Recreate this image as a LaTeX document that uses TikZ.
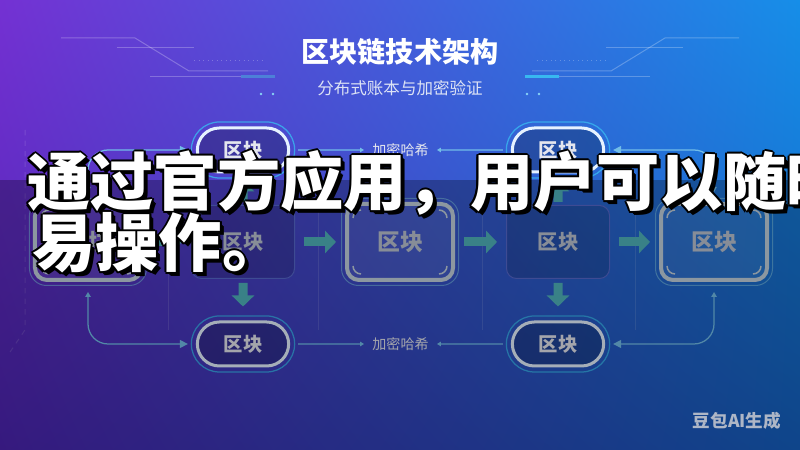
\documentclass[tikz,border=0pt]{standalone}
\usepackage{fontspec}
\setmainfont{Noto Sans CJK SC}
\usepackage{tikz}
\usetikzlibrary{arrows.meta,positioning,shapes.misc,calc,shadings}
\definecolor{bgul}{HTML}{7431D3}
\definecolor{bgur}{HTML}{168EE8}
\definecolor{bgll}{HTML}{4B24B0}
\definecolor{bglr}{HTML}{1560C0}
\definecolor{flowteal}{HTML}{4FB3BC}
\definecolor{wire}{HTML}{72BDE8}
\definecolor{rim}{HTML}{E6F2FF}
\definecolor{glowc}{HTML}{38B8F0}
\definecolor{frame}{HTML}{C3D2DE}
\definecolor{ink}{HTML}{E4E6EE}
\definecolor{dimink}{HTML}{BCC4D2}
\definecolor{edge}{HTML}{5668CC}
\definecolor{subink}{HTML}{DDE3F5}
\definecolor{markink}{HTML}{AEB6C6}

\begin{document}
\begin{tikzpicture}[x=0.2mm,y=0.2mm,
   pill/.style={rounded rectangle,draw=rim,line width=0.6mm,fill=black,fill opacity=0.22,text opacity=1,text=ink,minimum width=20.6mm,minimum height=8.8mm,font=\bfseries\fontsize{11pt}{13pt}\selectfont},
   ring/.style={rounded rectangle,draw=glowc,line width=0.25mm,draw opacity=0.8,minimum width=23mm,minimum height=11.2mm},
   glowbox/.style={rounded corners=2.4mm,draw=frame,line width=0.8mm,fill=white,fill opacity=0.07,text opacity=1,text=dimink,minimum width=21.2mm,minimum height=15.2mm,font=\bfseries\fontsize{13pt}{15pt}\selectfont},
   boxring/.style={rounded corners=3.4mm,draw=glowc!50!frame,line width=0.2mm,draw opacity=0.6,minimum width=23.4mm,minimum height=17.4mm},
   cornermark/.style={draw=frame,line width=0.3mm},
   plainbox/.style={rounded corners=2mm,draw=edge,line width=0.2mm,fill=black,fill opacity=0.14,text opacity=1,text=dimink,minimum width=20.6mm,minimum height=14.6mm,font=\bfseries\fontsize{11.6pt}{14pt}\selectfont},
   flow/.style={draw=flowteal,line width=1.8mm,-{Triangle[length=2.2mm,width=4.4mm]}},
   link/.style={draw=wire,line width=0.25mm,rounded corners=4mm},
   hashln/.style={draw=wire,line width=0.25mm,-{Triangle[length=0.8mm,width=0.9mm]}},
   hashlbl/.style={text=ink,font=\fontsize{8pt}{10pt}\selectfont,inner sep=1.6mm},
   deco/.style={draw=white,draw opacity=0.25,line width=0.2mm},
   gridln/.style={draw=white,draw opacity=0.12,line width=0.2mm},
   captxt/.style={anchor=west,inner sep=0pt,font=\bfseries\fontsize{36pt}{40pt}\selectfont}]
  \useasboundingbox (0,0) rectangle (800,450);
  \shade[upper left=bgul,upper right=bgur,lower left=bgll,lower right=bglr] (0,0) rectangle (800,450);

  % title and its circuit lines
  \node[text=white,font=\bfseries\fontsize{16pt}{18pt}\selectfont] (ttl) at (400,398) {区块链技术架构};
  \node[text=subink,font=\fontsize{9.4pt}{11pt}\selectfont] (stl) at (400,362) {分布式账本与加密验证};
  \draw[deco] (61,412)--(135,412)--(189,379)--(268,379);
  \draw[deco] (117,402)--(194,402);
  \draw[deco,dotted] (194,389)--(265,389);
  \draw[deco] (150,373)--(241,373);
  \draw[draw=edge!70!glowc,line width=0.6mm] (241,373)--(275,373);
  \fill[glowc!60!white] (261,356) circle (1.4) (273,356) circle (1.4);
  \draw[deco] (739,412)--(665,412)--(611,379)--(532,379);
  \draw[deco] (683,402)--(606,402);
  \draw[deco,dotted] (606,389)--(535,389);
  \draw[deco] (650,373)--(559,373);
  \draw[draw=glowc,line width=0.6mm] (559,373)--(525,373);
  \fill[glowc!60!white] (539,356) circle (1.4) (527,356) circle (1.4);

  % faint frame lines
  \draw[gridln,dashed] (25,320)--(25,120)--(8,95);
  \draw[gridln] (168,265)--(168,120) (318,265)--(318,120);
  \draw[gridln] (482,265)--(482,120) (635,265)--(635,120);

  % middle row
  \node[glowbox] (b1) at (88,208) {区块};
  \node[plainbox,right=9.6mm of b1] (b2) {区块};
  \node[glowbox,right=10mm of b2] (b3) {区块};
  \node[plainbox,right=10.2mm of b3] (b4) {区块};
  \node[glowbox,right=9.8mm of b4] (b5) {区块};
  \foreach \n in {b1,b3,b5} {
    \node[boxring] (\n-ring) at (\n) {};
    \draw[cornermark] ([shift={(1.6mm,-3.2mm)}]\n.north west) arc[start angle=180,end angle=90,radius=1.6mm];
    \draw[cornermark] ([shift={(-3.2mm,-1.6mm)}]\n.north east) arc[start angle=90,end angle=0,radius=1.6mm];
    \draw[cornermark] ([shift={(-1.6mm,3.2mm)}]\n.south east) arc[start angle=0,end angle=-90,radius=1.6mm];
    \draw[cornermark] ([shift={(3.2mm,1.6mm)}]\n.south west) arc[start angle=270,end angle=180,radius=1.6mm];
  }

  % pills
  \node[pill,above=6.3mm of b2] (tl) {区块};
  \node[pill,above=6.3mm of b4] (tr) {区块};
  \node[pill,below=8.3mm of b2] (bl) {区块};
  \node[pill,below=8.3mm of b4] (br) {区块};
  \foreach \n in {tl,tr,bl,br} \node[ring] (\n-ring) at (\n) {};
  \node[hashlbl] (h1) at ($(tl)!0.5!(tr)$) {加密哈希};
  \node[hashlbl] (h2) at ($(bl)!0.5!(br)$) {加密哈希};

  % connectors
  \draw[hashln,shorten <=1.6mm] (tl) -- (h1);
  \draw[hashln,shorten <=1.6mm] (tr) -- (h1);
  \draw[hashln,shorten <=1.6mm] (bl) -- (h2);
  \draw[hashln,shorten <=1.6mm] (br) -- (h2);
  \draw[flow,shorten <=1.8mm,shorten >=1.8mm] (b1) -- (b2);
  \draw[flow,shorten <=1.8mm,shorten >=1.8mm] (b2) -- (b3);
  \draw[flow,shorten <=1.8mm,shorten >=1.8mm] (b3) -- (b4);
  \draw[flow,shorten <=1.8mm,shorten >=1.8mm] (b4) -- (b5);
  \draw[flow,shorten <=0.8mm,shorten >=2.8mm] (b2) -- (bl);
  \draw[flow,shorten <=0.8mm,shorten >=2.8mm] (b4) -- (br);
  \draw[flow,shorten <=0.6mm,shorten >=1.4mm] (b2) -- (tl);
  \draw[flow,shorten <=0.6mm,shorten >=1.4mm] (b4) -- (tr);
  \draw[link,{Triangle[length=1mm,width=1.1mm]}-{Triangle[length=1.6mm,width=1.6mm]},shorten <=2mm,shorten >=1.6mm] (b1) |- (tl);
  \draw[link,{Triangle[length=1mm,width=1.1mm]}-{Triangle[length=1.6mm,width=1.6mm]},shorten <=2mm,shorten >=1.6mm] (b1) |- (bl);
  \draw[link,{Triangle[length=1.6mm,width=1.6mm]}-{Triangle[length=1mm,width=1.1mm]},shorten <=1.6mm,shorten >=2mm] (tr) -| (b5);
  \draw[link,{Triangle[length=1.6mm,width=1.6mm]}-{Triangle[length=1mm,width=1.1mm]},shorten <=1.6mm,shorten >=2mm] (br) -| (b5);

  % dark band and caption
  \fill[black,opacity=0.28] (0,0) rectangle (800,270);
  \node[text=markink,font=\bfseries\fontsize{10pt}{12pt}\selectfont] (mark) at (737,29) {豆包AI生成};
  \begin{scope}
    \clip (0,0) rectangle (800,450);
    \foreach \dx/\dy [count=\k] in {2/0,-2/0,0/2,0/-2,1.5/1.5,1.5/-1.5,-1.5/1.5,-1.5/-1.5,3/-3,4/-4} {
      \node[captxt,text=black] (outa\k) at (27+\dx,267+\dy) {通过官方应用，用户可以随时};
      \node[captxt,text=black] (outb\k) at (32+\dx,207+\dy) {易操作。};
    }
    \node[captxt,text=white] (cap1) at (27,267) {通过官方应用，用户可以随时};
    \node[captxt,text=white] (cap2) at (32,207) {易操作。};
  \end{scope}
\end{tikzpicture}
\end{document}
